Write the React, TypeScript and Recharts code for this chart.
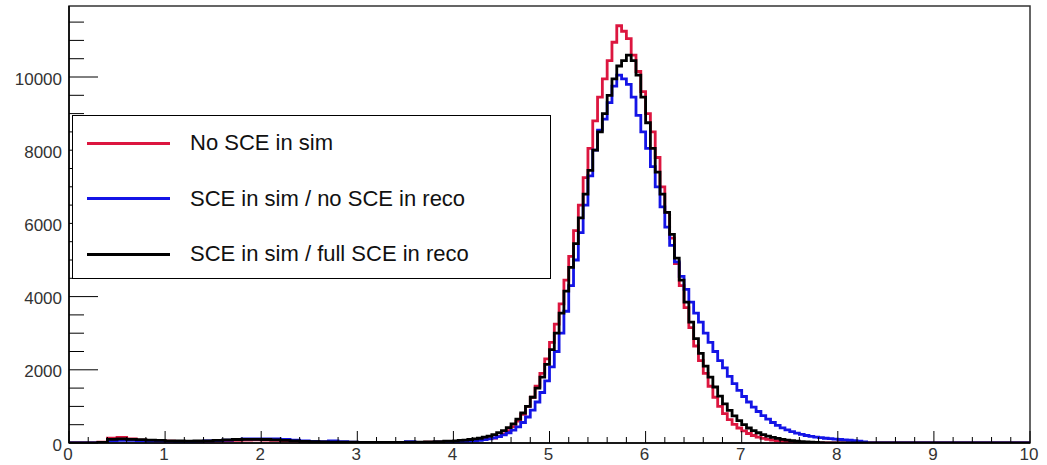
import React from "react"
import {
  LineChart,
  Line,
  XAxis,
  YAxis,
  Legend,
  ReferenceArea,
} from "recharts"

// bin edges: 0.1 wide below 4, 0.05 wide across the peak
const LOW_START = 0
const LOW_WIDTH = 0.1
const LOW_COUNT = 40
const PEAK_START = 4
const PEAK_WIDTH = 0.05
const PEAK_COUNT = 87

const redLow = [0, 0, 0, 20, 130, 150, 110, 80, 70, 60, 50, 45, 40, 40, 45, 50, 60, 70, 80, 85, 80, 70, 60, 50, 40, 30, 25, 20, 15, 15, 10, 10, 10, 10, 10, 10, 15, 20, 25, 30]
const blueLow = [0, 0, 0, 10, 60, 70, 70, 60, 55, 50, 45, 40, 40, 45, 55, 65, 80, 95, 110, 115, 115, 110, 100, 80, 60, 45, 40, 55, 40, 25, 15, 15, 15, 15, 15, 40, 15, 15, 20, 25]
const blackLow = [0, 0, 0, 15, 100, 110, 100, 90, 80, 70, 60, 55, 50, 55, 60, 70, 85, 95, 100, 100, 95, 85, 70, 60, 45, 35, 30, 25, 20, 20, 15, 15, 15, 15, 15, 20, 25, 30, 40, 50]

const redPeak = [
  40, 45, 55, 65, 75, 90, 105, 120, 135, 180, 250, 340, 450, 600, 780, 1000, 1250, 1550, 1900, 2300,
  2750, 3250, 3800, 4450, 5100, 5800, 6500, 7250, 8050, 8800, 9450, 9950, 10450, 10950, 11400, 11250, 11050, 10600, 10150, 9600,
  9000, 8500, 7800, 7000, 6300, 5600, 4900, 4300, 3700, 3150, 2650, 2250, 1900, 1550, 1250, 1000, 800, 640, 510, 410,
  330, 260, 205, 160, 125, 100, 80, 62, 48, 37, 28, 20, 14, 10, 6, 4, 2, 0, 0, 0,
  0, 0, 0, 0, 0, 0, 0,
]
const bluePeak = [
  30, 35, 40, 50, 60, 75, 90, 110, 140, 175, 220, 280, 350, 440, 560, 710, 900, 1120, 1380, 1700,
  2080, 2500, 3000, 3600, 4300, 5000, 5750, 6500, 7300, 8000, 8550, 8850, 9300, 9750, 10050, 9950, 9800, 9450, 8950, 8500,
  8050, 7550, 7000, 6450, 5900, 5400, 4950, 4550, 4200, 3850, 3550, 3300, 3000, 2750, 2500, 2250, 2050, 1820, 1620, 1440,
  1270, 1120, 980, 860, 750, 650, 560, 480, 415, 360, 310, 270, 235, 205, 180, 160, 145, 130, 118, 105,
  95, 85, 75, 65, 50, 30, 0,
]
const blackPeak = [
  60, 70, 80, 95, 110, 130, 160, 190, 230, 280, 340, 420, 520, 650, 820, 1000, 1250, 1500, 1800, 2150,
  2550, 3000, 3550, 4150, 4800, 5450, 6150, 6800, 7450, 8000, 8500, 9000, 9500, 9950, 10300, 10450, 10600, 10450, 10050, 9450,
  8750, 8050, 7400, 6800, 6300, 5700, 5050, 4450, 3850, 3300, 2850, 2450, 2100, 1800, 1530, 1280, 1070, 890, 740, 610,
  500, 410, 340, 280, 230, 190, 155, 125, 100, 80, 62, 48, 36, 27, 20, 14, 10, 6, 4, 2,
  0, 0, 0, 0, 0, 0, 0,
]

const seriesNames = ["No SCE in sim", "SCE in sim / no SCE in reco", "SCE in sim / full SCE in reco"]
const seriesColors = ["#dc163f", "#1414e6", "#000000"]

const xTicks = Array.from({ length: 51 }, (_, i) => +(i * 0.2).toFixed(1))
const yTicks = Array.from({ length: 24 }, (_, i) => i * 500)
const Y_MAX = 11940

const lowEdges = Array.from({ length: LOW_COUNT }, (_, i) => +(LOW_START + i * LOW_WIDTH).toFixed(2))
const peakEdges = Array.from({ length: PEAK_COUNT }, (_, i) => +(PEAK_START + i * PEAK_WIDTH).toFixed(2))

const data = [
  ...lowEdges.map((x, i) => ({ x, red: redLow[i], blue: blueLow[i], black: blackLow[i] })),
  ...peakEdges.map((x, i) => ({ x, red: redPeak[i], blue: bluePeak[i], black: blackPeak[i] })),
  { x: 8.35, red: 0, blue: 0, black: 0 },
  { x: 10, red: 0, blue: 0, black: 0 },
]

const FONT = "'Liberation Sans', Arial, Helvetica, sans-serif"

const renderYTick = (props: any) => {
  const { x, y, payload } = props
  const v = payload.value
  const major = v % 2000 === 0
  return (
    <g key={`y-${v}`}>
      <line x1={x} x2={x + (major ? 29 : 15)} y1={y} y2={y} stroke="#000" strokeWidth={1} />
      {major && (
        <text x={x - 7} y={y + 2} textAnchor="end" dominantBaseline="central" fontSize={17} fontFamily={FONT} fill="#333">
          {v}
        </text>
      )}
    </g>
  )
}

const renderXTick = (props: any) => {
  const { x, y, payload } = props
  const v = payload.value
  const major = Math.abs(v - Math.round(v)) < 1e-6
  return (
    <g key={`x-${v}`}>
      <line x1={x} x2={x} y1={y} y2={y - (major ? 12 : 6)} stroke="#000" strokeWidth={1} />
      {major && (
        <text x={x - 1} y={y + 11} textAnchor="middle" dominantBaseline="central" fontSize={17} fontFamily={FONT} fill="#333">
          {Math.round(v)}
        </text>
      )}
    </g>
  )
}

const LegendBox = () => (
  <div
    style={{
      position: "relative",
      width: 479,
      height: 164,
      boxSizing: "border-box",
      border: "1.5px solid #000",
      background: "#fff",
      fontFamily: FONT,
    }}
  >
    {seriesNames.map((name, i) => (
      <div key={name} style={{ position: "absolute", left: 0, top: 27 + i * 55.5, width: "100%" }}>
        <div style={{ position: "absolute", left: 14, top: -1.5, width: 83, height: 3, background: seriesColors[i] }} />
        <div style={{ position: "absolute", left: 117, top: -14, fontSize: 22, lineHeight: "28px", color: "#111", whiteSpace: "nowrap" }}>
          {name}
        </div>
      </div>
    ))}
  </div>
)

export default function App() {
  return (
    <div style={{ position: "absolute", left: 0, top: 0, width: 1047, height: 465, background: "#fff" }}>
      <LineChart width={1047} height={465} data={data} margin={{ top: 6, right: 17, bottom: 0, left: 9 }}>
        <XAxis
          dataKey="x"
          type="number"
          domain={[0, 10]}
          ticks={xTicks}
          interval={0}
          height={22}
          tickSize={0}
          tickMargin={0}
          tick={renderXTick}
          axisLine={{ stroke: "#000", strokeWidth: 1.5 }}
          allowDataOverflow
        />
        <YAxis
          type="number"
          domain={[0, Y_MAX]}
          ticks={yTicks}
          interval={0}
          width={60}
          tickSize={0}
          tickMargin={0}
          tick={renderYTick}
          axisLine={{ stroke: "#000", strokeWidth: 1.5 }}
          allowDataOverflow
        />
        <ReferenceArea x1={0} x2={10} y1={0} y2={Y_MAX} fill="none" stroke="#333" strokeWidth={1.5} />
        <Line type="stepAfter" dataKey="red" name={seriesNames[0]} stroke={seriesColors[0]} strokeWidth={2.8} dot={false} isAnimationActive={false} />
        <Line type="stepAfter" dataKey="blue" name={seriesNames[1]} stroke={seriesColors[1]} strokeWidth={2.8} dot={false} isAnimationActive={false} />
        <Line type="stepAfter" dataKey="black" name={seriesNames[2]} stroke={seriesColors[2]} strokeWidth={2.8} dot={false} isAnimationActive={false} />
        <Legend
          layout="horizontal"
          verticalAlign="middle"
          align="center"
          content={<LegendBox />}
          wrapperStyle={{ left: 72, top: 115, width: 479, height: 164 }}
        />
      </LineChart>
    </div>
  )
}
